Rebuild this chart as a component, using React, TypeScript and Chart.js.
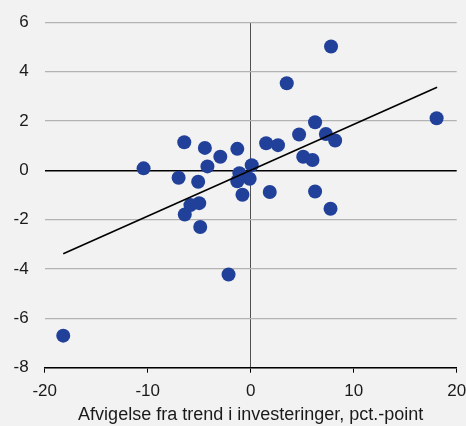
import React, { useEffect, useRef } from "react";
import { Chart, registerables } from "chart.js";

Chart.register(...registerables);

const investDev = [
  -18.2, -10.4, -7.0, -6.45, -6.4, -5.85, -5.1, -5.0, -4.9, -4.45, -4.2, -2.95,
  -2.15, -1.3, -1.3, -1.1, -0.8, -0.1, 0.1, 1.5, 1.85, 2.65, 3.5, 4.7, 5.1, 6.0,
  6.25, 6.25, 7.3, 7.75, 7.8, 8.2, 18.05,
];
const outcomeDev = [
  -6.7, 0.08, -0.3, 1.14, -1.79, -1.41, -0.46, -1.33, -2.3, 0.91, 0.16, 0.55,
  -4.22, 0.87, -0.44, -0.12, -0.99, -0.34, 0.21, 1.1, -0.88, 1.02, 3.53, 1.45,
  0.55, 0.42, 1.95, -0.86, 1.47, -1.56, 5.02, 1.21, 2.11,
];
const trendX = [-18.2, 18.1];
const trendY = [-3.38, 3.37];
const xTicks = [-20, -10, 0, 10, 20];
const yTicks = [-8, -6, -4, -2, 0, 2, 4, 6];
const xTitle = "Afvigelse fra trend i investeringer, pct.-point";

export default function App() {
  const ref = useRef<HTMLCanvasElement | null>(null);
  useEffect(() => {
    document.body.style.margin = "0";
    document.body.style.background = "#f2f2f2";
    const ctx = ref.current!;
    const chart = new Chart(ctx, {
      type: "scatter",
      data: {
        datasets: [
          {
            data: trendX.map((x, i) => ({ x, y: trendY[i] })),
            showLine: true,
            borderColor: "#000000",
            borderWidth: 1.6,
            pointRadius: 0,
          },
          {
            data: investDev.map((x, i) => ({ x, y: outcomeDev[i] })),
            backgroundColor: "#21409a",
            borderColor: "#21409a",
            borderWidth: 0,
            pointRadius: 7,
          },
        ],
      },
      options: {
        responsive: false,
        animation: false,
        layout: { padding: { top: 22.3, right: 9.3, left: 0, bottom: 0 } },
        plugins: { legend: { display: false }, tooltip: { enabled: false } },
        scales: {
          x: {
            type: "linear",
            min: -20,
            max: 20,
            afterBuildTicks: (s: any) => {
              s.ticks = xTicks.map((v) => ({ value: v }));
            },
            afterFit: (s: any) => {
              s.height = 58.3;
              s.paddingLeft = 0;
              s.paddingRight = 0;
            },
            ticks: {
              color: "#1a1a1a",
              font: { family: "Liberation Sans, Arial", size: 17 },
              padding: 8,
            },
            grid: {
              color: (c: any) => (c.tick && c.tick.value === 0 ? "#505050" : "rgba(0,0,0,0)"),
              tickColor: "#000000",
              tickLength: 5,
              drawTicks: true,
            },
            border: { display: true, color: "#000000", width: 1.5 },
            title: {
              display: true,
              text: xTitle,
              color: "#1a1a1a",
              font: { family: "Liberation Sans, Arial", size: 18 },
              padding: { top: 2, bottom: 0 },
            },
          },
          y: {
            type: "linear",
            min: -8,
            max: 6,
            afterBuildTicks: (s: any) => {
              s.ticks = yTicks.map((v) => ({ value: v }));
            },
            afterFit: (s: any) => {
              s.width = 44.7;
              s.paddingTop = 0;
              s.paddingBottom = 0;
            },
            ticks: {
              color: "#1a1a1a",
              font: { family: "Liberation Sans, Arial", size: 17 },
              padding: 16,
            },
            grid: {
              color: (c: any) => (c.tick && c.tick.value === 0 ? "#000000" : "#b3b3b3"),
              lineWidth: (c: any) => (c.tick && c.tick.value === 0 ? 1.5 : 1.2),
              drawTicks: false,
            },
            border: { display: false },
          },
        },
      },
    });
    return () => chart.destroy();
  }, []);
  return (
    <div style={{ width: 466, height: 426, background: "#f2f2f2" }}>
      <canvas ref={ref} width={466} height={426} style={{ display: "block" }} />
    </div>
  );
}
